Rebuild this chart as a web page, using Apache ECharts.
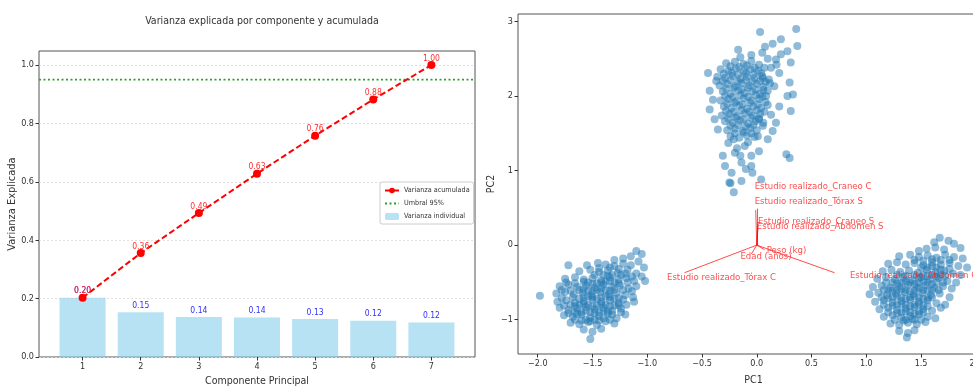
<!DOCTYPE html>
<html>
<head>
<meta charset="utf-8">
<script src="https://cdn.jsdelivr.net/npm/echarts@6/dist/echarts.min.js"></script>
<style>
  html, body { margin: 0; padding: 0; background: #fff; overflow: hidden; }
  #chart { width: 973px; height: 387px; }
</style>
</head>
<body>
<div id="chart"></div>
<script>
// componentes principales
var componentes = [1, 2, 3, 4, 5, 6, 7];
var varianzaIndividual = [0.203, 0.153, 0.137, 0.135, 0.130, 0.124, 0.118];
var varianzaAcumulada = [0.203, 0.356, 0.493, 0.628, 0.758, 0.882, 1.000];
var umbral = 0.95;
var yTicksIzq = [0, 0.2, 0.4, 0.6, 0.8, 1.0];

// biplot: ticks
var pc1Ticks = [-2.0, -1.5, -1.0, -0.5, 0.0, 0.5, 1.0, 1.5, 2.0];
var pc2Ticks = [-1, 0, 1, 2, 3];

// cargas (vectores) y posicion del texto
var cargaNombres = ['Estudio realizado_Craneo C', 'Estudio realizado_Tórax S', 'Estudio realizado_Craneo S',
    'Estudio realizado_Abdomen S', 'Peso (kg)', 'Edad (años)', 'Estudio realizado_Tórax C', 'Estudio realizado_Abdomen C'];
var cargaX = [0.00, -0.01, 0.01, 0.01, 0.07, -0.05, -0.66, 0.71];
var cargaY = [0.49, 0.47, 0.28, 0.22, -0.06, -0.12, -0.37, -0.37];
var textoX = [-0.02, -0.02, 0.01, 0.00, 0.09, -0.15, -0.82, 0.85];
var textoY = [0.79, 0.58, 0.32, 0.25, -0.075, -0.155, -0.43, -0.405];

// grupo superior
var grupoA = [
    [0.03,2.86],[0.36,2.90],[0.37,2.67],[0.22,2.76],[0.145,2.70],[0.075,2.66],[0.28,2.60],[0.31,2.45],[-0.17,2.62],
    [0.22,2.56],[0.175,2.49],[-0.05,2.55],[0.05,2.58],[-0.15,2.52],[0.10,2.50],[0.18,2.42],
    [-0.445,2.31],[-0.43,2.07],[-0.43,1.82],[-0.385,1.69],[-0.355,1.55],[-0.40,1.95],[-0.37,2.20],
    [-0.26,1.37],[-0.20,1.24],[-0.29,1.06],[-0.14,1.11],[-0.05,1.20],[-0.04,0.97],[-0.23,0.97],[-0.14,0.86],
    [-0.25,0.84],[0.04,0.88],[-0.05,1.06],[0.02,1.26],[-0.11,1.33],[-0.21,1.42],[-0.31,1.20],[-0.21,0.71],[-0.24,0.83],
    [-0.18,1.30],[-0.08,1.38],[-0.15,1.20],[-0.10,1.02],
    [0.27,1.22],[0.30,1.17],[0.10,1.42],[0.145,1.53],[0.055,1.60],[0.175,1.64],[0.31,1.80],[0.33,2.02],[0.28,2.00],
    [0.30,2.18],[0.205,1.86],[0.13,1.75],[0.16,2.13],[0.205,2.31],[0.13,2.38],[0.01,1.46],[0.02,1.69],[0.085,2.0],[0.055,2.24],
    [-0.28,2.44],[-0.20,2.46],[-0.12,2.43],[-0.05,2.47],[0.02,2.42],
    [-0.33,2.36],[-0.26,2.34],[-0.19,2.37],[-0.12,2.33],[-0.06,2.36],[0.01,2.34],[0.07,2.38],
    [-0.36,2.26],[-0.29,2.24],[-0.22,2.27],[-0.15,2.23],[-0.09,2.26],[-0.02,2.24],[0.05,2.27],[0.11,2.22],
    [-0.34,2.14],[-0.27,2.16],[-0.20,2.13],[-0.14,2.17],[-0.07,2.14],[0.00,2.16],[0.06,2.12],[0.12,2.17],
    [-0.31,2.06],[-0.24,2.03],[-0.17,2.07],[-0.11,2.04],[-0.04,2.06],[0.03,2.03],[0.10,2.07],
    [-0.33,1.94],[-0.26,1.96],[-0.19,1.93],[-0.12,1.97],[-0.05,1.94],[0.02,1.96],[0.08,1.92],
    [-0.30,1.86],[-0.23,1.84],[-0.16,1.87],[-0.09,1.83],[-0.03,1.86],[0.04,1.84],[0.10,1.88],
    [-0.32,1.74],[-0.25,1.76],[-0.18,1.73],[-0.11,1.77],[-0.04,1.74],[0.03,1.76],
    [-0.29,1.66],[-0.22,1.64],[-0.15,1.67],[-0.08,1.63],[-0.01,1.66],[0.06,1.64],
    [-0.27,1.54],[-0.20,1.56],[-0.13,1.53],[-0.06,1.57],[0.00,1.54],
    [-0.24,1.46],[-0.16,1.44],[-0.09,1.47],[-0.02,1.45],
    [-0.24,2.40],[-0.16,2.39],[-0.09,2.41],[-0.02,2.38],[0.04,2.31],
    [-0.30,2.30],[-0.23,2.31],[-0.17,2.29],[-0.10,2.31],[-0.03,2.29],[0.03,2.20],
    [-0.31,2.20],[-0.24,2.21],[-0.17,2.19],[-0.10,2.21],[-0.04,2.19],[0.08,2.19],
    [-0.28,2.10],[-0.21,2.11],[-0.14,2.09],[-0.08,2.11],[-0.01,2.09],[0.06,2.08],
    [-0.29,2.00],[-0.22,1.99],[-0.15,2.01],[-0.08,1.99],[-0.01,2.01],[0.05,1.99],
    [-0.27,1.90],[-0.20,1.91],[-0.13,1.89],[-0.06,1.91],[0.01,1.89],
    [-0.28,1.80],[-0.21,1.79],[-0.14,1.81],[-0.07,1.79],[0.00,1.81],[0.07,1.79],
    [-0.26,1.70],[-0.19,1.71],[-0.12,1.69],[-0.05,1.71],[0.02,1.70],
    [-0.24,1.60],[-0.17,1.61],[-0.10,1.59],[-0.03,1.61],
    [-0.20,1.50],[-0.12,1.51],[-0.05,1.50]
];

// grupo izquierdo
var grupoB = [
    [-1.10,-0.08],[-1.05,-0.12],[-1.15,-0.15],[-1.22,-0.18],[-1.08,-0.22],[-1.30,-0.20],
    [-1.55,-0.27],[-1.45,-0.24],[-1.38,-0.26],[-1.30,-0.28],[-1.22,-0.25],[-1.15,-0.27],[-1.03,-0.30],[-1.72,-0.27],
    [-1.62,-0.35],[-1.52,-0.33],[-1.44,-0.36],[-1.36,-0.34],[-1.27,-0.37],[-1.18,-0.33],[-1.10,-0.38],[-1.05,-0.42],[-1.02,-0.48],
    [-1.75,-0.45],[-1.66,-0.43],[-1.58,-0.46],[-1.50,-0.44],[-1.42,-0.47],[-1.34,-0.43],[-1.26,-0.46],[-1.19,-0.44],[-1.12,-0.48],
    [-1.80,-0.55],[-1.72,-0.53],[-1.64,-0.56],[-1.56,-0.54],[-1.48,-0.57],[-1.40,-0.53],[-1.32,-0.56],[-1.25,-0.54],[-1.17,-0.58],[-1.10,-0.55],
    [-1.98,-0.68],[-1.83,-0.65],[-1.75,-0.63],[-1.67,-0.66],[-1.59,-0.64],[-1.51,-0.67],[-1.43,-0.63],[-1.35,-0.66],[-1.28,-0.64],[-1.20,-0.67],[-1.13,-0.70],
    [-1.82,-0.76],[-1.74,-0.74],[-1.66,-0.77],[-1.58,-0.75],[-1.50,-0.73],[-1.42,-0.76],[-1.34,-0.74],[-1.26,-0.78],[-1.19,-0.80],[-1.12,-0.76],
    [-1.80,-0.84],[-1.72,-0.87],[-1.64,-0.85],[-1.56,-0.83],[-1.48,-0.86],[-1.40,-0.84],[-1.32,-0.88],[-1.24,-0.85],
    [-1.76,-0.94],[-1.68,-0.96],[-1.60,-0.93],[-1.52,-0.97],[-1.44,-0.95],[-1.36,-0.92],[-1.28,-0.98],[-1.20,-0.93],
    [-1.70,-1.04],[-1.62,-1.06],[-1.54,-1.03],[-1.46,-1.07],[-1.38,-1.02],[-1.30,-1.05],
    [-1.58,-1.13],[-1.50,-1.16],[-1.42,-1.12],[-1.52,-1.26],
    [-1.62,-0.60],[-1.54,-0.61],[-1.46,-0.60],[-1.38,-0.60],[-1.30,-0.60],[-1.58,-0.70],[-1.50,-0.70],[-1.42,-0.70],
    [-1.34,-0.70],[-1.26,-0.71],[-1.62,-0.80],[-1.54,-0.80],[-1.46,-0.81],[-1.38,-0.80],[-1.30,-0.81],[-1.60,-0.90],
    [-1.52,-0.90],[-1.44,-0.90],[-1.36,-0.89],[-1.54,-0.50],[-1.46,-0.51],[-1.38,-0.49],[-1.30,-0.50],[-1.40,-0.40],
    [-1.32,-0.40],[-1.68,-0.70],[-1.70,-0.80],[-1.66,-0.90],[-1.48,-1.00],[-1.56,-1.00],[-1.40,-0.98],
    [-1.74,-0.50],[-1.66,-0.51],[-1.58,-0.49],[-1.50,-0.52],[-1.42,-0.50],[-1.34,-0.48],[-1.26,-0.51],[-1.18,-0.50],
    [-1.78,-0.60],[-1.70,-0.61],[-1.58,-0.59],[-1.50,-0.62],[-1.42,-0.58],[-1.34,-0.61],[-1.22,-0.60],[-1.14,-0.62],
    [-1.78,-0.71],[-1.62,-0.72],[-1.54,-0.69],[-1.46,-0.72],[-1.38,-0.69],[-1.30,-0.72],[-1.22,-0.73],
    [-1.76,-0.81],[-1.66,-0.82],[-1.58,-0.79],[-1.50,-0.82],[-1.42,-0.79],[-1.34,-0.82],[-1.26,-0.81],
    [-1.72,-0.91],[-1.64,-0.92],[-1.56,-0.88],[-1.48,-0.91],[-1.40,-0.88],[-1.32,-0.93],[-1.24,-0.90],
    [-1.66,-1.00],[-1.60,-1.01],[-1.52,-1.02],[-1.44,-1.01],[-1.34,-1.00],
    [-1.48,-0.40],[-1.36,-0.41],[-1.24,-0.40],[-1.44,-0.31],[-1.34,-0.30],[-1.26,-0.32],[-1.20,-0.38],[-1.14,-0.42]
];

// grupo derecho
var grupoC = [
    [1.67,0.10],[1.75,0.06],[1.80,0.02],[1.62,0.04],
    [1.55,-0.05],[1.63,-0.03],[1.71,-0.06],[1.86,-0.04],[1.48,-0.08],
    [1.30,-0.15],[1.40,-0.13],[1.48,-0.16],[1.56,-0.14],[1.64,-0.17],[1.72,-0.13],[1.80,-0.16],[1.88,-0.18],
    [1.20,-0.25],[1.28,-0.23],[1.36,-0.26],[1.44,-0.24],[1.52,-0.27],[1.60,-0.23],[1.68,-0.26],[1.76,-0.24],[1.84,-0.28],[1.92,-0.30],
    [1.15,-0.35],[1.23,-0.33],[1.31,-0.36],[1.39,-0.34],[1.47,-0.37],[1.55,-0.33],[1.63,-0.36],[1.71,-0.34],[1.79,-0.38],[1.86,-0.40],
    [1.10,-0.45],[1.18,-0.43],[1.26,-0.46],[1.34,-0.44],[1.42,-0.47],[1.50,-0.43],[1.58,-0.46],[1.66,-0.44],[1.74,-0.48],[1.82,-0.50],
    [1.06,-0.56],[1.14,-0.54],[1.22,-0.57],[1.30,-0.55],[1.38,-0.53],[1.46,-0.56],[1.54,-0.54],[1.62,-0.57],[1.70,-0.55],[1.78,-0.58],
    [1.03,-0.66],[1.11,-0.64],[1.19,-0.67],[1.27,-0.65],[1.35,-0.63],[1.43,-0.66],[1.51,-0.64],[1.59,-0.67],[1.67,-0.65],[1.76,-0.70],
    [1.08,-0.76],[1.16,-0.74],[1.24,-0.77],[1.32,-0.75],[1.40,-0.73],[1.48,-0.76],[1.56,-0.74],[1.64,-0.78],[1.72,-0.80],
    [1.12,-0.86],[1.20,-0.84],[1.28,-0.87],[1.36,-0.85],[1.44,-0.83],[1.52,-0.86],[1.60,-0.88],[1.68,-0.84],
    [1.16,-0.96],[1.24,-0.94],[1.32,-0.97],[1.40,-0.95],[1.48,-0.93],[1.56,-0.96],[1.63,-0.98],
    [1.22,-1.05],[1.30,-1.07],[1.38,-1.04],[1.46,-1.06],[1.54,-1.03],
    [1.30,-1.15],[1.38,-1.18],[1.44,-1.14],[1.37,-1.24],
    [1.24,-0.50],[1.32,-0.50],[1.40,-0.50],[1.48,-0.50],[1.56,-0.50],[1.64,-0.50],[1.20,-0.60],[1.28,-0.60],
    [1.36,-0.60],[1.44,-0.61],[1.52,-0.60],[1.60,-0.60],[1.24,-0.70],[1.32,-0.70],[1.40,-0.70],[1.48,-0.70],
    [1.56,-0.71],[1.28,-0.80],[1.36,-0.80],[1.44,-0.80],[1.52,-0.81],[1.32,-0.90],[1.40,-0.90],[1.48,-0.89],
    [1.44,-0.40],[1.52,-0.40],[1.60,-0.40],[1.68,-0.40],[1.56,-0.30],[1.64,-0.30],[1.36,-1.00],[1.44,-1.00],
    [1.28,-0.40],[1.36,-0.41],[1.48,-0.44],[1.56,-0.41],[1.64,-0.42],[1.72,-0.41],[1.76,-0.32],[1.68,-0.33],
    [1.60,-0.28],[1.50,-0.30],[1.44,-0.20],[1.52,-0.21],[1.60,-0.19],[1.68,-0.20],[1.76,-0.20],
    [1.18,-0.50],[1.28,-0.51],[1.36,-0.49],[1.44,-0.52],[1.52,-0.49],[1.60,-0.52],[1.70,-0.50],
    [1.16,-0.60],[1.24,-0.61],[1.32,-0.59],[1.40,-0.62],[1.48,-0.58],[1.56,-0.61],[1.66,-0.60],
    [1.14,-0.70],[1.20,-0.71],[1.28,-0.69],[1.36,-0.72],[1.44,-0.69],[1.52,-0.72],[1.60,-0.70],
    [1.16,-0.80],[1.24,-0.81],[1.32,-0.79],[1.40,-0.82],[1.48,-0.79],[1.56,-0.82],
    [1.20,-0.90],[1.28,-0.91],[1.36,-0.89],[1.44,-0.92],[1.52,-0.90],[1.26,-1.00],[1.34,-1.01],[1.42,-0.99],[1.50,-1.00]
];

var myChart = echarts.init(document.getElementById('chart'));
var fuente = "'DejaVu Sans Condensed', 'DejaVu Sans'";

var barData = componentes.map(function (c, i) { return [c, varianzaIndividual[i]]; });
var lineData = componentes.map(function (c, i) { return [c, varianzaAcumulada[i]]; });
var cargaLines = cargaNombres.map(function (n, i) {
    return { coords: [[0, 0], [cargaX[i], cargaY[i]]] };
});
var cargaTextos = cargaNombres.map(function (n, i) {
    return { name: n, value: [textoX[i], textoY[i]] };
});

function eje(extra, ticks, fmt, nombre) {
    var base = {
        type: 'value',
        name: nombre, nameLocation: 'middle',
        nameTextStyle: { fontSize: 10.5, color: '#333', fontFamily: fuente },
        axisLine: { show: false, onZero: false },
        axisTick: { show: true, length: 3.5, lineStyle: { color: '#333' }, customValues: ticks },
        axisLabel: { color: '#333', fontSize: 9, fontFamily: fuente, margin: 5, customValues: ticks, formatter: fmt },
        splitLine: { show: false }
    };
    return Object.assign(base, extra);
}
function menos(v, d) { return (d == null ? String(v) : v.toFixed(d)).replace('-', '\u2212'); }

var option = {
    animation: false,
    backgroundColor: '#fff',
    textStyle: { fontFamily: fuente },
    title: {
        text: 'Varianza explicada por componente y acumulada',
        left: 257, top: 11, textAlign: 'center',
        textStyle: { fontSize: 10.5, fontWeight: 'normal', color: '#333', fontFamily: fuente }
    },
    legend: {
        orient: 'vertical',
        left: 380, top: 182,
        itemWidth: 14, itemHeight: 7, itemGap: 6,
        padding: [5, 4, 4, 4],
        backgroundColor: '#fff',
        borderColor: '#ccc', borderWidth: 1, borderRadius: 2,
        textStyle: { fontSize: 7.2, color: '#333', fontFamily: fuente },
        data: ['Varianza acumulada', { name: 'Umbral 95%', itemStyle: { opacity: 0 } }, 'Varianza individual']
    },
    grid: [
        { left: 39, top: 51, width: 436, height: 306, outerBoundsMode: 'none', containLabel: false,
          show: true, borderColor: '#555', borderWidth: 1, backgroundColor: 'transparent' },
        { left: 518, top: 14, width: 471, height: 340, outerBoundsMode: 'none', containLabel: false,
          show: true, borderColor: '#555', borderWidth: 1, backgroundColor: 'transparent' }
    ],
    xAxis: [
        eje({ gridIndex: 0, min: 0.25, max: 7.75, nameGap: 19 }, componentes, null, 'Componente Principal'),
        eje({ gridIndex: 1, min: -2.18, max: 2.12, nameGap: 21 }, pc1Ticks, function (v) { return menos(v, 1); }, 'PC1')
    ],
    yAxis: [
        eje({ gridIndex: 0, min: 0, max: 1.048, interval: 0.2, nameGap: 18, nameRotate: 90,
              nameTextStyle: { fontSize: 11, color: '#333', fontFamily: fuente },
              splitLine: { show: true, lineStyle: { color: '#d8d8d8', type: [2, 2], width: 0.8 } } },
            yTicksIzq, function (v) { return v.toFixed(1); }, 'Varianza Explicada'),
        eje({ gridIndex: 1, min: -1.46, max: 3.10, nameGap: 17, nameRotate: 90 },
            pc2Ticks, function (v) { return menos(v); }, 'PC2')
    ],
    series: [
        {
            name: 'Varianza individual', type: 'bar', xAxisIndex: 0, yAxisIndex: 0,
            barWidth: 46,
            data: barData,
            itemStyle: { color: 'rgba(135,206,235,0.6)' },
            label: { show: true, position: 'top', distance: 2, fontSize: 8.5, color: '#3030ff', fontFamily: fuente,
                formatter: function (p) { return p.value[1].toFixed(2); } },
            z: 1
        },
        {
            name: 'Umbral 95%', type: 'line', xAxisIndex: 0, yAxisIndex: 0,
            data: [[0.25, umbral], [7.75, umbral]],
            symbol: 'none',
            lineStyle: { color: '#2ca02c', type: [2, 2.5], width: 1.6 },
            itemStyle: { color: '#2ca02c' },
            z: 2
        },
        {
            name: 'Varianza acumulada', type: 'line', xAxisIndex: 0, yAxisIndex: 0,
            data: lineData,
            symbol: 'circle', symbolSize: 8,
            lineStyle: { color: '#ff0000', type: [6, 3], width: 2 },
            itemStyle: { color: '#ff0000' },
            label: { show: true, position: 'top', distance: -2, fontSize: 8.5, color: '#ff3030', fontFamily: fuente,
                formatter: function (p) { return p.value[1].toFixed(2); } },
            z: 3
        },
        {
            name: 'PCA', type: 'scatter', xAxisIndex: 1, yAxisIndex: 1,
            data: grupoA.concat(grupoB, grupoC),
            symbolSize: 8,
            itemStyle: { color: '#1f77b4', opacity: 0.5 },
            z: 2
        },
        {
            name: 'Cargas', type: 'lines', coordinateSystem: 'cartesian2d', xAxisIndex: 1, yAxisIndex: 1,
            data: cargaLines,
            lineStyle: { color: '#ff0000', width: 1, opacity: 0.7 },
            z: 3
        },
        {
            name: 'Etiquetas', type: 'scatter', xAxisIndex: 1, yAxisIndex: 1,
            data: cargaTextos,
            symbolSize: 0.1,
            itemStyle: { color: 'rgba(0,0,0,0)' },
            label: { show: true, position: 'right', distance: 0, fontSize: 9.5, color: '#ff2020', fontFamily: fuente,
                formatter: function (p) { return p.name; } },
            z: 4
        }
    ]
};
myChart.setOption(option);
</script>
</body>
</html>
